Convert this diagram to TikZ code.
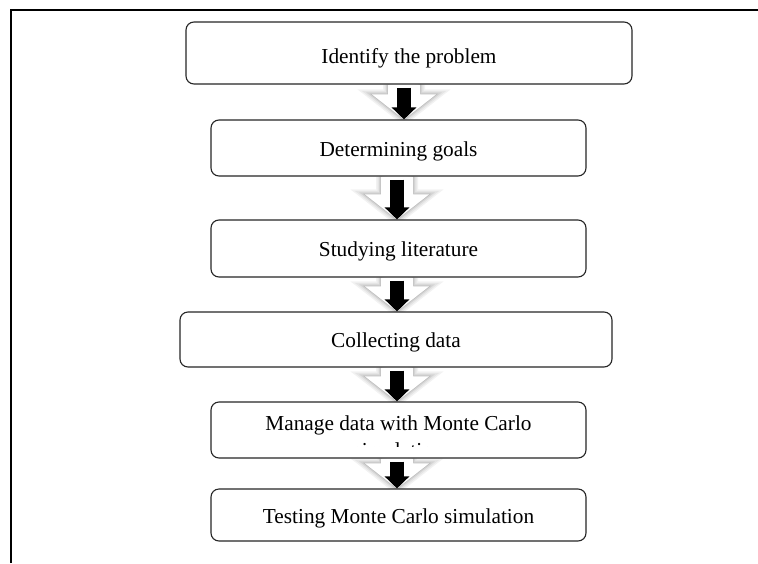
\documentclass[tikz,border=0pt]{standalone}
\usepackage{fontspec}
\setmainfont{Liberation Serif}
\usetikzlibrary{arrows.meta,calc}
\pgfdeclarelayer{bg}
\pgfsetlayers{bg,main}
\tikzset{
  box/.style={draw=black!85, line width=1.1pt, rounded corners=8pt, fill=white,
    font=\fontsize{21.3}{25.6}\selectfont, inner sep=0pt, text height=16pt, text depth=0pt},
  txt/.style={font=\fontsize{21.3}{25.6}\selectfont, inner sep=0pt},
  frameline/.style={line width=2pt, black, line join=miter},
  blackarrow/.style={line width=14pt, black, -{Triangle[width=24pt,length=12pt]}},
}
% #1 upper node, #2 lower node, #3 x position of the arrow axis
\newcommand\flowarrow[3]{%
  \begin{pgfonlayer}{bg}
    \foreach \w/\c in {10pt/black!5,7pt/black!10,4pt/black!17,1.5pt/black!25}{%
      \draw[line width=\w, draw=\c, line join=miter] let \p1=(#1.south), \p2=(#2.north) in
        ({#3pt-16pt},\y1) -- ({#3pt-16pt},{\y2+25pt}) -- ({#3pt-32pt},{\y2+25pt}) -- ({#3pt},\y2)
        -- ({#3pt+32pt},{\y2+25pt}) -- ({#3pt+16pt},{\y2+25pt}) -- ({#3pt+16pt},\y1);
    }
    \fill[white] let \p1=(#1.south), \p2=(#2.north) in
        ({#3pt-16pt},\y1) -- ({#3pt-16pt},{\y2+25pt}) -- ({#3pt-32pt},{\y2+25pt}) -- ({#3pt},\y2)
        -- ({#3pt+32pt},{\y2+25pt}) -- ({#3pt+16pt},{\y2+25pt}) -- ({#3pt+16pt},\y1) -- cycle;
    \draw[blackarrow] let \p1=(#1.south), \p2=(#2.north) in ({#3pt},{\y1-3pt}) -- ({#3pt},\y2);
  \end{pgfonlayer}}
\begin{document}
\begin{tikzpicture}[x=1pt,y=-1pt]
\useasboundingbox (0,0) rectangle (758,563);
\draw[frameline] (11,563) -- (11,10) -- (758,10);

\node[box, minimum width=446pt, minimum height=62pt, text height=20pt] (b1) at (409,53) {Identify the problem};
\node[box, minimum width=375pt, minimum height=56pt] (b2) at (398.5,148) {Determining goals};
\node[box, minimum width=375pt, minimum height=57pt] (b3) at (398.5,248.5) {Studying literature};
\node[box, minimum width=432pt, minimum height=55pt] (b4) at (396,339.5) {Collecting data};
\node[box, minimum width=375pt, minimum height=56pt] (b5) at (398.5,430) {};
\begin{scope}
  \clip (b5.north west) rectangle ([yshift=12.5pt]b5.south east);
  \node[txt, anchor=base] (t5a) at (398.5,430) {Manage data with Monte Carlo};
  \node[txt, anchor=base] (t5b) at (398.5,457) {simulation};
\end{scope}
\node[box, minimum width=375pt, minimum height=52pt] (b6) at (398.5,515) {Testing Monte Carlo simulation};

\flowarrow{b1}{b2}{404}
\flowarrow{b2}{b3}{397}
\flowarrow{b3}{b4}{397}
\flowarrow{b4}{b5}{397}
\flowarrow{b5}{b6}{397}
\end{tikzpicture}
\end{document}
